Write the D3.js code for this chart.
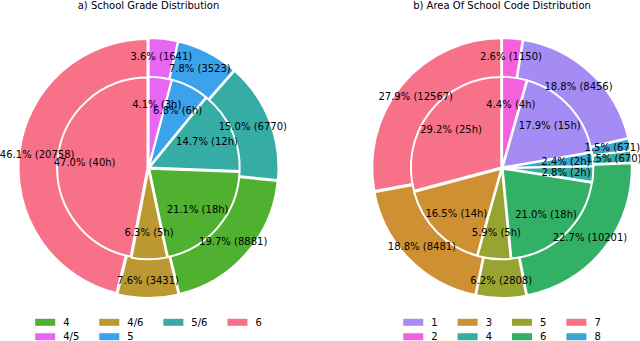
<!DOCTYPE html>
<html><head><meta charset="utf-8">
<script src="https://cdn.jsdelivr.net/npm/d3@7"></script>
<style>body{margin:0;background:#fff}svg{display:block}text{font-family:"DejaVu Sans",sans-serif;fill:#000}</style>
</head><body>
<svg id="c" width="640" height="341"></svg>
<script>
// ---- data ----
const gradeCategories = ["6", "4/6", "4", "5/6", "5", "4/5"];
const gradeCounts = [20758, 3431, 8881, 6770, 3523, 1641];
const gradeHourPct = [47.0, 6.3, 21.1, 14.7, 6.8, 4.1];
const gradeHours = [40, 5, 18, 12, 6, 3];
const gradeLegendOrder = ["4", "4/5", "4/6", "5", "5/6", "6"];

const areaCategories = ["7", "3", "5", "6", "4", "8", "1", "2"];
const areaCounts = [12567, 8481, 2808, 10201, 670, 671, 8456, 1150];
const areaHourPct = [29.2, 16.5, 5.9, 21.0, 2.8, 2.4, 17.9, 4.4];
const areaHours = [25, 14, 5, 18, 2, 2, 15, 4];
const areaLegendOrder = ["1", "2", "3", "4", "5", "6", "7", "8"];

const titles = ["a) School Grade Distribution", "b) Area Of School Code Distribution"];

// palettes (seaborn husl)
const gradePalette = ["#f77189", "#bb9832", "#50b131", "#36ada4", "#3ba3ec", "#e866f4"];
const areaPalette = ["#f77189", "#ce9032", "#97a431", "#32b166", "#36ada4", "#39a7d0", "#a48cf4", "#f561dd"];

const svg = d3.select("#c");
const R = 129, RI = 0.7 * R, explode = 1;

function drawPanel(cx, cy, title, cats, counts, hpct, hours, palette, legendOrder) {
  const color = d3.scaleOrdinal().domain(cats).range(palette);
  const g = svg.append("g").attr("transform", `translate(${cx},${cy})`);
  svg.append("text").attr("x", cx).attr("y", 9).attr("text-anchor", "middle")
    .attr("font-size", 10).text(title);

  const pie = d3.pie().sort(null).startAngle(0).endAngle(-2 * Math.PI);
  const total = d3.sum(counts);
  const outer = pie(counts).map((d, i) => Object.assign(d, {cat: cats[i], label: (counts[i] / total * 100).toFixed(1) + "% (" + counts[i] + ")"}));
  const inner = pie(hpct).map((d, i) => Object.assign(d, {cat: cats[i], label: hpct[i].toFixed(1) + "% (" + hours[i] + "h)"}));
  const mid = d => (d.startAngle + d.endAngle) / 2;
  const off = (d, r) => [r * Math.sin(mid(d)), -r * Math.cos(mid(d))];

  const arcO = d3.arc().innerRadius(0).outerRadius(R);
  const arcI = d3.arc().innerRadius(0).outerRadius(RI);

  g.selectAll("path.o").data(outer).join("path").attr("class", "o")
    .attr("d", arcO).attr("fill", d => color(d.cat))
    .attr("stroke", "#fff").attr("stroke-width", 2).attr("stroke-linejoin", "round")
    .attr("transform", d => `translate(${off(d, explode)})`);
  g.selectAll("path.i").data(inner).join("path").attr("class", "i")
    .attr("d", arcI).attr("fill", d => color(d.cat))
    .attr("stroke", "#fff").attr("stroke-width", 2).attr("stroke-linejoin", "round")
    .attr("transform", d => `translate(${off(d, explode)})`);

  g.selectAll("text.o").data(outer).join("text").attr("class", "o")
    .attr("x", d => off(d, 0.862 * R + explode)[0]).attr("y", d => off(d, 0.862 * R + explode)[1])
    .attr("text-anchor", "middle").attr("dy", "0.36em").attr("font-size", 10).text(d => d.label);
  g.selectAll("text.i").data(inner).join("text").attr("class", "i")
    .attr("x", d => off(d, 0.7 * RI + explode)[0]).attr("y", d => off(d, 0.7 * RI + explode)[1])
    .attr("text-anchor", "middle").attr("dy", "0.36em").attr("font-size", 10).text(d => d.label);

  // legend: 4 columns, column-major, 2 rows
  const ncol = 4, nrows = Math.ceil(legendOrder.length / ncol);
  const nLarge = legendOrder.length % ncol;
  const cols = [];
  let idx = 0;
  for (let c = 0; c < ncol; c++) {
    const n = (nLarge === 0 || c < nLarge) ? nrows : nrows - 1;
    cols.push(legendOrder.slice(idx, idx + n));
    idx += n;
  }
  const leg = svg.append("g");
  const rowY = [322.3, 336.7];
  // measure widths
  const meas = svg.append("text").attr("font-size", 10);
  const colW = cols.map(col => d3.max(col, t => { meas.text(t); return meas.node().getComputedTextLength(); }) || 0);
  meas.remove();
  const swW = 20, swH = 7, pad = 8, colSp = 20;
  const totalW = d3.sum(colW, w => swW + pad + w) + colSp * (ncol - 1);
  let x = cx - totalW / 2;
  cols.forEach((col, c) => {
    col.forEach((t, r) => {
      leg.append("rect").attr("x", x).attr("y", rowY[r] - swH / 2).attr("width", swW).attr("height", swH)
        .attr("fill", color(t));
      leg.append("text").attr("x", x + swW + pad).attr("y", rowY[r] + 3.7).attr("font-size", 10).text(t);
    });
    x += swW + pad + colW[c] + colSp;
  });
}

drawPanel(148.5, 168, titles[0], gradeCategories, gradeCounts, gradeHourPct, gradeHours, gradePalette, gradeLegendOrder);
drawPanel(502, 168, titles[1], areaCategories, areaCounts, areaHourPct, areaHours, areaPalette, areaLegendOrder);
</script>
</body></html>
